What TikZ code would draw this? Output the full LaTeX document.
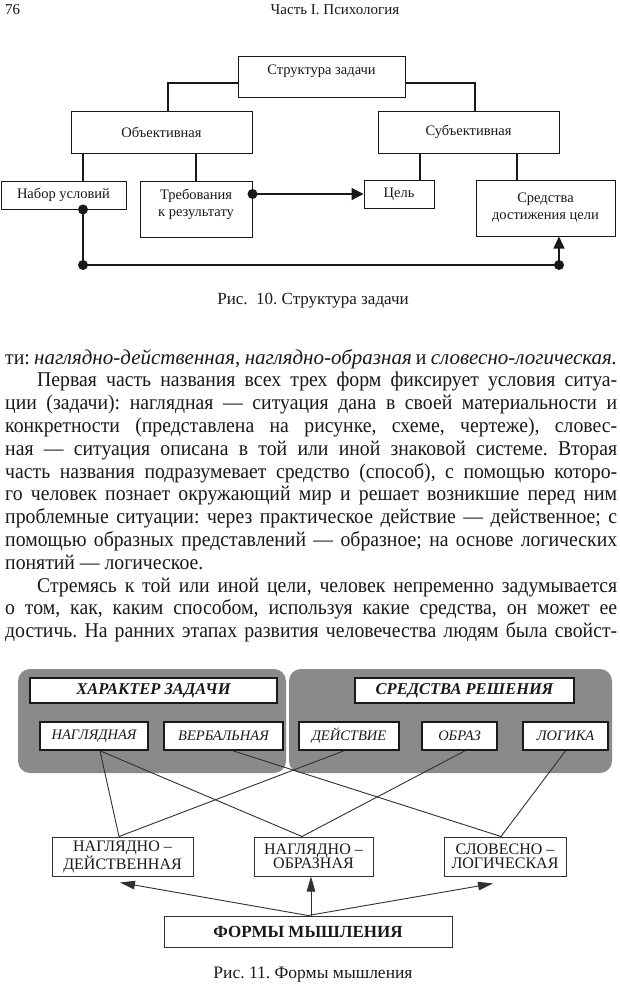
\documentclass[tikz,border=0pt]{standalone}
\usepackage{fontspec}
\setmainfont{Liberation Serif}
\newfontfamily\bodyfont{Liberation Serif}[FakeStretch=0.94]
\newfontfamily\bodyitfont{Liberation Serif}[FakeStretch=1.0]
\usetikzlibrary{arrows.meta}
\definecolor{ink}{gray}{0.1}
\definecolor{panelgray}{gray}{0.54}
\frenchspacing
\newcommand{\bit}[1]{{\bodyitfont\itshape #1}}
\begin{document}
\begin{tikzpicture}[x=1pt,y=-1pt,
  ln/.style={draw=ink, line width=1.2pt},
  boxa/.style={draw=ink, line width=1pt, fill=white, inner sep=1pt, align=center,
    text=ink, font=\fontsize{14.5}{17}\selectfont},
  dotc/.style={fill=ink},
  tipa/.style={-{Triangle[length=12pt,width=12pt]}},
  tipb/.style={-{Triangle[length=15pt,width=8.5pt]}},
  bodyl/.style={inner sep=0pt, anchor=base west, text=ink,
    font=\bodyfont\fontsize{21}{23}\selectfont},
  capt/.style={inner sep=0pt, anchor=base, text=ink, font=\fontsize{17}{20}\selectfont},
  hdr/.style={inner sep=0pt, anchor=base, text=ink, font=\fontsize{15}{18}\selectfont},
  panel/.style={fill=panelgray, rounded corners=12pt, inner sep=0pt},
  titlebox/.style={draw=ink, line width=1.3pt, fill=white, inner sep=0pt, text=ink,
    font=\fontsize{16.5}{18}\selectfont\bfseries\itshape, minimum height=25pt},
  smallbox/.style={draw=ink, line width=1.6pt, fill=white, inner sep=0pt, text=ink,
    font=\fontsize{14.5}{16}\selectfont\itshape, minimum height=28pt},
  formbox/.style={draw=ink!90, line width=1pt, fill=white, inner sep=0pt, align=center,
    text=ink, font=\fontsize{16}{14.5}\selectfont, minimum height=39pt},
  thin/.style={draw=ink!90, line width=0.9pt}
]
\useasboundingbox (0,0) rectangle (620,985);
\fill[white] (0,0) rectangle (620,985);

% header
\node[hdr, anchor=base west] (pg) at (5,14) {76};
\node[hdr] (run) at (335,14) {Часть I. Психология};

% ---------- Figure 10 ----------
\node[boxa, minimum width=167pt, minimum height=41pt, text depth=14pt] (S) at (321.5,76.5) {Структура задачи};
\node[boxa, minimum width=181pt, minimum height=42pt] (O) at (161.5,132) {Объективная};
\node[boxa, minimum width=181pt, minimum height=42pt] (Sb) at (468.5,132) {Субъективная};
\node[boxa, minimum width=125pt, minimum height=28pt] (N) at (63.5,195) {Набор условий};
\node[boxa, minimum width=112pt, minimum height=56pt, text depth=12pt] (T) at (196,209) {Требования\\к результату};
\node[boxa, minimum width=70pt, minimum height=28pt] (C) at (399,194) {Цель};
\node[boxa, minimum width=139pt, minimum height=56pt] (M) at (545.5,208) {Средства\\достижения цели};

\draw[ln] ([yshift=-6.5pt]S.west) -| ([xshift=6.5pt]O.north);
\draw[ln] ([yshift=-6.5pt]S.east) -| ([xshift=6.5pt]Sb.north);
\draw[ln] ([xshift=19.5pt]N.north) -- ([xshift=19.5pt]N.north |- O.south);
\draw[ln] (T.north) -- (T.north |- O.south);
\draw[ln] ([xshift=21pt]C.north) -- ([xshift=21pt]C.north |- Sb.south);
\draw[ln] ([xshift=-28.5pt]M.north) -- ([xshift=-28.5pt]M.north |- Sb.south);

\draw[ln, tipa] (T.east |- C.west) -- (C.west);
\fill[dotc] (T.east |- C.west) circle (5pt);

\coordinate (bl) at (83,265);
\coordinate (br) at (559,265);
\draw[ln, -{Triangle[length=12pt,width=11pt]}] ([xshift=19.5pt]N.south) -- (bl) -- (br) -- ([xshift=13.5pt]M.south);
\fill[dotc] ([xshift=19.5pt]N.south) circle (5pt);
\fill[dotc] (bl) circle (5pt);
\fill[dotc] (br) circle (5pt);

\node[capt] (cap1) at (313,304) {Рис.\ \ 10. Структура задачи};

% ---------- body text ----------
\node[bodyl] (l1) at (5,364) {\makebox[612pt][s]{ти: \bit{наглядно-действенная, наглядно-образная} и \bit{словесно-логическая.}}};
\node[bodyl] (l2) at (37,386.8) {\makebox[580pt][s]{Первая часть названия всех трех форм фиксирует условия ситуа-}};
\node[bodyl] (l3) at (5,409.6) {\makebox[612pt][s]{ции (задачи): наглядная — ситуация дана в своей материальности и}};
\node[bodyl] (l4) at (5,432.4) {\makebox[612pt][s]{конкретности (представлена на рисунке, схеме, чертеже), словес-}};
\node[bodyl] (l5) at (5,455.2) {\makebox[612pt][s]{ная — ситуация описана в той или иной знаковой системе. Вторая}};
\node[bodyl] (l6) at (5,478) {\makebox[612pt][s]{часть названия подразумевает средство (способ), с помощью которо-}};
\node[bodyl] (l7) at (5,500.8) {\makebox[612pt][s]{го человек познает окружающий мир и решает возникшие перед ним}};
\node[bodyl] (l8) at (5,523.6) {\makebox[612pt][s]{проблемные ситуации: через практическое действие — действенное; с}};
\node[bodyl] (l9) at (5,546.4) {\makebox[612pt][s]{помощью образных представлений — образное; на основе логических}};
\node[bodyl] (l10) at (5,569.2) {понятий — логическое.};
\node[bodyl] (l11) at (37,592) {\makebox[580pt][s]{Стремясь к той или иной цели, человек непременно задумывается}};
\node[bodyl] (l12) at (5,614.8) {\makebox[612pt][s]{о том, как, каким способом, используя какие средства, он может ее}};
\node[bodyl] (l13) at (5,637.6) {\makebox[612pt][s]{достичь. На ранних этапах развития человечества людям была свойст-}};

% ---------- Figure 11 ----------
\node[panel, minimum width=268pt, minimum height=104pt] (PL) at (152,721) {};
\node[panel, minimum width=323pt, minimum height=104pt] (PR) at (450.5,721) {};

\node[titlebox, minimum width=247pt] (HZ) at (153.5,690.5) {ХАРАКТЕР ЗАДАЧИ};
\node[titlebox, minimum width=219pt] (SR) at (464.5,690.5) {СРЕДСТВА РЕШЕНИЯ};

\node[smallbox, minimum width=108pt] (NAG) at (94,736) {НАГЛЯДНАЯ};
\node[smallbox, minimum width=119pt] (VER) at (223.5,736) {ВЕРБАЛЬНАЯ};
\node[smallbox, minimum width=100pt] (DEJ) at (349,736) {ДЕЙСТВИЕ};
\node[smallbox, minimum width=75pt] (OBR) at (459.5,736) {ОБРАЗ};
\node[smallbox, minimum width=85pt] (LOG) at (565.5,736) {ЛОГИКА};

\node[formbox, minimum width=141pt] (ND) at (122.5,856.5) {НАГЛЯДНО –\\ДЕЙСТВЕННАЯ};
\node[formbox, minimum width=119pt] (NO) at (313.5,856.5) {НАГЛЯДНО –\\ОБРАЗНАЯ};
\node[formbox, minimum width=122pt] (SL) at (505,856.5) {СЛОВЕСНО –\\ЛОГИЧЕСКАЯ};

\node[draw=ink!90, line width=1pt, fill=white, inner sep=0pt, text=ink,
  font=\fontsize{17}{20}\selectfont\bfseries, minimum width=288pt, minimum height=31pt] (FM) at (308,931.5) {ФОРМЫ МЫШЛЕНИЯ};

\draw[thin] ([xshift=6pt]NAG.south) -- ([xshift=-3.5pt]ND.north);
\draw[thin] ([xshift=6pt]NAG.south) -- ([xshift=-11.5pt]NO.north);
\draw[thin] ([xshift=-5pt]DEJ.south) -- ([xshift=-3.5pt]ND.north);
\draw[thin] ([xshift=9.5pt]VER.south) -- ([xshift=-4pt]SL.north);
\draw[thin] ([xshift=5.5pt]OBR.south) -- ([xshift=-11.5pt]NO.north);
\draw[thin] (LOG.south) -- ([xshift=-4pt]SL.north);

\draw[thin, tipb] (FM.north) -- ([xshift=-2.5pt,yshift=-6pt]ND.south);
\draw[thin, tipb] ([xshift=3pt]FM.north) -- ([xshift=3pt]FM.north |- NO.south);
\draw[thin, tipb] (FM.north) -- ([xshift=-12pt,yshift=-7pt]SL.south);

\node[capt, font=\fontsize{17.5}{20}\selectfont] (cap2) at (313,978) {Рис. 11. Формы мышления};
\end{tikzpicture}
\end{document}
